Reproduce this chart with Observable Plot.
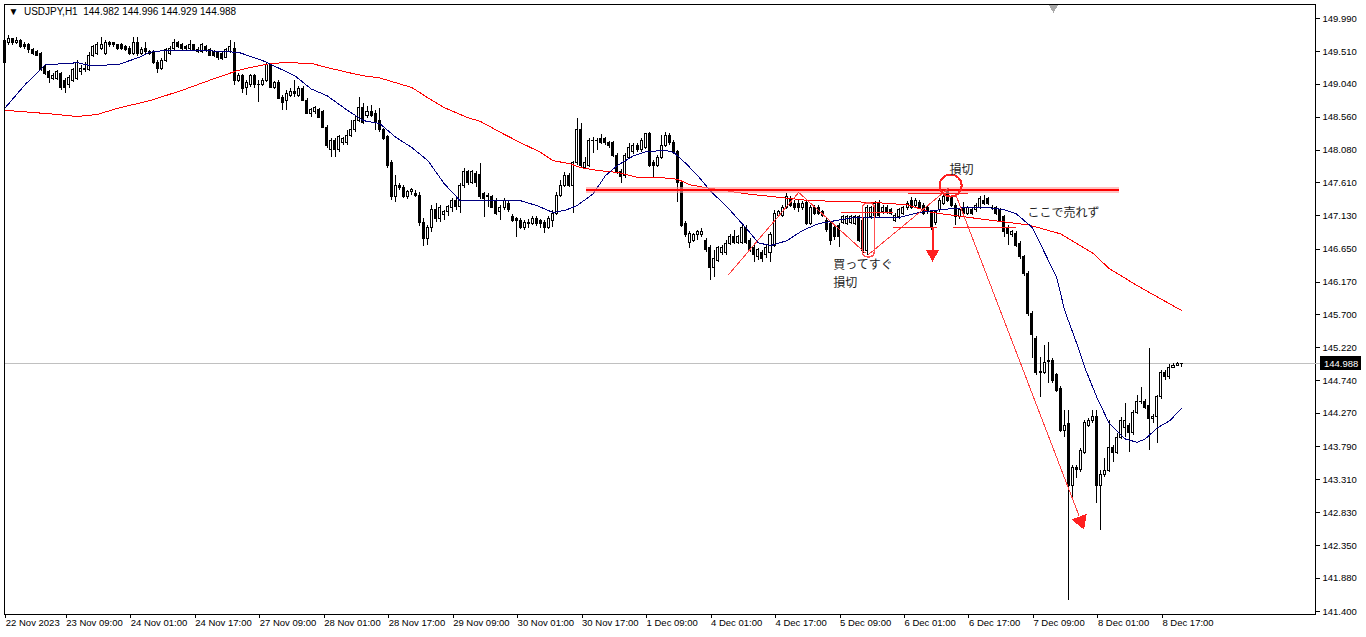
<!DOCTYPE html>
<html><head><meta charset="utf-8">
<script src="https://cdn.jsdelivr.net/npm/d3@7"></script>
<script src="https://cdn.jsdelivr.net/npm/@observablehq/plot@0.6"></script>
<style>
html,body{margin:0;padding:0;background:#fff;}
#chart{width:1366px;height:637px;overflow:hidden;}
</style></head><body><div id="chart"></div>
<script>
const symbolName = "USDJPY,H1";
const lastQuote = [144.982, 144.996, 144.929, 144.988];

const open = [
149.35,149.63,149.69,149.63,149.67,149.61,149.60,149.53,149.50,149.48,
149.29,149.21,149.12,149.12,149.19,149.09,149.02,149.09,149.12,149.21,
149.26,149.24,149.45,149.48,149.55,149.48,149.63,149.63,149.60,149.60,
149.57,149.55,149.48,149.64,149.48,149.55,149.50,149.50,149.35,149.26,
149.38,149.48,149.55,149.63,149.60,149.57,149.55,149.60,149.54,149.50,
149.57,149.53,149.50,149.50,149.48,149.42,149.50,149.55,149.09,149.15,
148.99,149.02,149.15,149.02,149.03,149.08,149.31,148.99,149.05,148.84,
148.80,148.87,148.92,148.87,148.97,148.80,148.61,148.63,148.66,148.63,
148.41,148.08,148.22,148.08,148.18,148.18,148.29,148.37,148.51,148.69,
148.58,148.63,148.61,148.51,148.37,148.27,147.89,147.40,147.57,147.54,
147.41,147.47,147.45,147.42,147.03,146.80,146.95,147.21,147.09,147.15,
147.18,147.24,147.34,147.26,147.56,147.76,147.61,147.74,147.73,147.45,
147.42,147.40,147.35,147.18,147.24,147.31,147.12,147.08,147.06,146.96,
147.03,147.02,147.09,147.05,147.03,146.96,147.06,147.16,147.42,147.57,
147.71,147.57,147.89,148.37,147.83,147.86,148.21,148.22,148.24,148.24,
148.18,148.18,148.00,147.77,147.71,147.97,148.05,148.15,148.08,148.12,
148.32,147.90,147.86,147.97,148.15,148.29,148.19,148.05,147.60,147.02,
146.74,146.77,146.85,146.85,146.77,146.67,146.37,146.48,146.59,146.59,
146.73,146.82,146.74,146.74,146.96,146.77,146.67,146.53,146.60,146.56,
146.60,146.70,147.13,147.13,147.25,147.38,147.31,147.31,147.24,147.32,
147.02,147.25,147.25,147.18,147.06,147.02,146.96,146.99,147.03,147.02,
147.03,147.02,147.11,147.06,146.62,147.11,147.13,147.32,147.18,147.25,
147.21,147.06,147.11,147.16,147.24,147.35,147.28,147.32,147.28,147.24,
147.18,147.03,147.21,147.31,147.47,147.40,147.28,147.11,147.25,147.16,
147.22,147.21,147.25,147.35,147.37,147.25,147.24,147.21,147.11,146.96,
146.85,146.87,146.73,146.53,146.29,145.71,145.35,144.86,144.86,145.02,
145.03,144.82,144.63,144.02,144.12,143.22,143.48,143.45,143.70,144.09,
144.16,144.22,143.22,143.37,143.44,143.77,143.70,143.92,144.06,144.09,
143.98,144.28,144.44,144.44,144.37,144.19,144.21,144.50,144.86,144.79,
144.93,144.95,144.982];

const high = [
149.74,149.74,149.70,149.71,149.69,149.64,149.63,149.55,149.53,149.50,
149.32,149.24,149.19,149.24,149.21,149.12,149.16,149.26,149.38,149.31,
149.35,149.50,149.60,149.64,149.71,149.67,149.66,149.64,149.61,149.63,
149.60,149.58,149.71,149.71,149.57,149.64,149.53,149.53,149.38,149.41,
149.55,149.58,149.69,149.66,149.63,149.60,149.67,149.61,149.57,149.63,
149.60,149.55,149.53,149.51,149.50,149.55,149.67,149.64,149.19,149.18,
149.09,149.18,149.18,149.09,149.12,149.34,149.34,149.08,149.09,148.87,
148.95,148.97,149.09,149.00,149.00,148.83,148.69,148.71,148.69,148.66,
148.44,148.25,148.25,148.29,148.27,148.37,148.51,148.58,148.84,148.76,
148.71,148.73,148.66,148.69,148.40,148.29,147.93,147.71,147.60,147.57,
147.50,147.53,147.50,147.47,147.09,146.99,147.28,147.31,147.28,147.21,
147.28,147.38,147.38,147.60,147.82,147.79,147.79,147.77,147.89,147.47,
147.45,147.42,147.38,147.28,147.38,147.34,147.15,147.11,147.09,147.06,
147.08,147.12,147.12,147.08,147.06,147.12,147.21,147.47,147.64,147.76,
147.74,147.92,148.54,148.47,147.97,148.25,148.27,148.25,148.31,148.27,
148.21,148.21,148.03,147.80,148.03,148.18,148.18,148.18,148.25,148.33,
148.34,147.93,148.00,148.29,148.34,148.32,148.22,148.08,147.63,147.05,
146.90,146.87,146.92,146.95,146.80,146.70,146.63,146.69,146.70,146.77,
146.86,146.92,146.85,146.99,146.99,146.80,146.70,146.66,146.63,146.70,
146.89,147.21,147.21,147.28,147.45,147.41,147.35,147.35,147.34,147.35,
147.28,147.28,147.28,147.21,147.09,147.05,146.99,147.02,147.13,147.13,
147.13,147.13,147.13,147.09,147.28,147.26,147.34,147.35,147.28,147.28,
147.24,147.16,147.24,147.26,147.34,147.40,147.38,147.35,147.31,147.26,
147.21,147.21,147.38,147.47,147.53,147.42,147.31,147.24,147.32,147.26,
147.25,147.31,147.41,147.42,147.40,147.28,147.26,147.24,147.13,146.99,
146.92,146.90,146.76,146.56,146.32,145.74,145.38,145.08,145.25,145.29,
145.06,144.85,144.66,144.31,144.31,143.51,143.51,143.76,144.16,144.19,
144.31,144.31,143.44,143.61,144.16,143.80,143.98,144.21,144.41,144.12,
144.31,144.53,144.64,144.47,145.21,144.25,144.53,144.89,144.89,144.98,
144.99,145.00,144.996];

const low = [
149.35,149.60,149.60,149.61,149.55,149.54,149.48,149.45,149.44,149.22,
149.16,149.05,149.09,149.09,148.95,148.90,148.97,149.06,149.09,149.16,
149.21,149.22,149.42,149.45,149.53,149.45,149.57,149.57,149.53,149.53,
149.51,149.45,149.45,149.44,149.45,149.47,149.45,149.32,149.19,149.24,
149.35,149.45,149.53,149.55,149.53,149.53,149.53,149.51,149.48,149.48,
149.50,149.44,149.42,149.38,149.38,149.41,149.48,149.02,149.06,148.90,
148.87,148.99,148.97,148.77,149.00,149.06,148.97,148.96,148.82,148.66,
148.66,148.84,148.84,148.84,148.79,148.60,148.55,148.60,148.54,148.40,
148.11,147.97,147.97,148.05,148.15,148.15,148.27,148.34,148.48,148.45,
148.54,148.55,148.37,148.34,148.22,147.82,147.35,147.32,147.50,147.38,
147.37,147.42,147.40,146.98,146.69,146.70,146.89,147.03,147.03,147.06,
147.12,147.18,147.21,147.16,147.53,147.57,147.58,147.54,147.37,147.11,
147.25,147.24,147.13,147.06,147.21,147.18,147.03,146.82,146.93,146.92,
146.95,146.99,146.98,146.95,146.87,146.93,146.96,147.13,147.40,147.54,
147.54,147.16,147.86,147.83,147.82,147.83,148.03,148.08,148.16,148.15,
148.11,147.97,147.73,147.60,147.67,147.96,148.02,148.05,148.05,148.09,
147.83,147.69,147.83,147.95,148.12,148.15,148.02,147.32,146.96,146.82,
146.66,146.74,146.77,146.82,146.60,146.19,146.24,146.45,146.56,146.56,
146.70,146.71,146.71,146.71,146.71,146.60,146.45,146.48,146.45,146.51,
146.45,146.67,147.11,147.11,147.22,147.25,147.21,147.18,147.21,146.99,
146.99,147.13,147.13,147.11,146.89,146.70,146.77,146.67,147.00,146.99,
147.00,146.99,146.74,146.59,146.56,147.08,147.11,147.11,147.15,147.15,
147.13,147.03,147.08,147.13,147.21,147.22,147.25,147.22,147.13,147.15,
146.92,146.99,147.18,147.28,147.32,147.25,146.99,147.08,147.13,147.13,
147.13,147.18,147.22,147.28,147.28,147.21,147.13,147.03,146.82,146.70,
146.82,146.67,146.50,146.25,145.67,145.06,144.82,144.50,144.83,144.70,
144.70,144.57,143.99,143.92,141.56,143.01,143.32,143.41,143.67,144.06,
144.13,142.96,142.57,143.34,143.41,143.56,143.67,143.89,143.92,143.70,
143.95,144.25,144.40,144.32,143.73,144.12,143.83,144.47,144.74,144.76,
144.92,144.95,144.929];

const close = [
149.67,149.69,149.63,149.67,149.57,149.57,149.53,149.48,149.45,149.24,
149.19,149.13,149.16,149.21,148.99,148.99,149.13,149.24,149.35,149.26,
149.24,149.45,149.57,149.60,149.60,149.63,149.60,149.60,149.55,149.55,
149.54,149.47,149.64,149.47,149.53,149.50,149.48,149.34,149.26,149.38,
149.53,149.55,149.64,149.57,149.55,149.55,149.60,149.53,149.50,149.60,
149.53,149.45,149.45,149.42,149.41,149.53,149.57,149.09,149.15,148.97,
149.05,149.15,149.02,149.03,149.09,149.31,148.99,149.05,148.83,148.76,
148.90,148.92,148.90,148.97,148.80,148.61,148.66,148.69,148.55,148.41,
148.15,148.22,148.08,148.27,148.24,148.29,148.37,148.51,148.69,148.48,
148.63,148.58,148.48,148.37,148.25,147.86,147.40,147.57,147.54,147.40,
147.47,147.50,147.42,147.03,146.80,146.95,147.21,147.09,147.25,147.18,
147.26,147.34,147.26,147.56,147.76,147.61,147.76,147.61,147.40,147.38,
147.40,147.25,147.16,147.25,147.35,147.21,147.06,147.05,146.96,147.03,
147.02,147.09,147.02,147.02,146.96,147.09,147.16,147.42,147.57,147.71,
147.57,147.89,148.37,147.86,147.89,148.22,148.22,148.21,148.19,148.18,
148.14,148.00,147.76,147.70,148.00,148.12,148.15,148.08,148.22,148.32,
147.86,147.86,147.97,148.15,148.29,148.18,148.05,147.60,146.99,146.85,
146.87,146.85,146.89,146.89,146.63,146.37,146.51,146.66,146.66,146.73,
146.82,146.74,146.82,146.96,146.74,146.63,146.56,146.63,146.51,146.67,
146.85,147.16,147.18,147.25,147.40,147.28,147.24,147.24,147.31,147.02,
147.25,147.16,147.16,147.13,146.92,146.77,146.82,146.82,147.11,147.11,
147.11,147.11,146.77,146.62,147.25,147.24,147.31,147.13,147.25,147.18,
147.16,147.13,147.21,147.24,147.31,147.25,147.35,147.25,147.16,147.18,
146.96,147.18,147.35,147.40,147.35,147.28,147.11,147.21,147.16,147.24,
147.16,147.28,147.38,147.31,147.31,147.24,147.16,147.06,146.89,146.87,
146.89,146.70,146.53,146.29,145.71,145.40,144.86,144.87,145.00,145.03,
144.74,144.60,144.02,144.09,143.22,143.48,143.45,143.72,144.13,144.16,
144.22,143.22,143.37,143.44,143.77,143.70,143.92,144.16,144.16,143.98,
144.28,144.43,144.43,144.35,144.19,144.22,144.50,144.86,144.79,144.93,
144.95,144.98,144.988];

// moving averages (bar index, value)
const blueIdx = [0,5,10,16,18,21,28,33,36,40,48,58,64,72,76,80,85,89,93,97,101,105,109,113,121,128,132,136,139,142,146,149,152,156,159,164,166,169,172,175,180,184,187,190,194,198,202,206,211,217,222,227,232,238,244,248,251,255,258,261,263,266,268,271,274,278,281,283,286,289,292];
const blueVal = [148.69,149.03,149.32,149.34,149.35,149.31,149.32,149.42,149.50,149.53,149.53,149.50,149.38,149.16,148.97,148.87,148.66,148.51,148.47,148.27,148.12,147.93,147.60,147.35,147.35,147.35,147.28,147.18,147.21,147.28,147.45,147.71,147.86,148.00,148.06,148.08,148.05,147.89,147.71,147.50,147.21,146.95,146.74,146.70,146.77,146.92,147.02,147.06,147.11,147.11,147.11,147.18,147.22,147.25,147.25,147.22,147.16,146.96,146.60,146.24,145.76,145.28,144.93,144.50,144.13,143.90,143.85,143.90,144.06,144.16,144.34];
const redIdx = [0,11,18,23,28,36,44,52,58,61,66,70,76,80,85,89,93,97,101,105,109,115,118,123,128,133,136,140,143,147,152,157,162,167,170,175,184,192,200,209,217,224,230,239,247,254,262,270,274,281,292];
const redVal = [148.66,148.61,148.57,148.60,148.69,148.80,148.95,149.12,149.24,149.28,149.34,149.35,149.34,149.28,149.21,149.16,149.13,149.06,148.99,148.84,148.70,148.55,148.50,148.34,148.19,148.05,147.93,147.89,147.83,147.79,147.76,147.69,147.69,147.66,147.58,147.53,147.45,147.40,147.35,147.34,147.32,147.29,147.18,147.11,147.05,147.00,146.87,146.59,146.37,146.12,145.76];

const yTicks = [149.990,149.510,149.040,148.560,148.080,147.610,147.130,146.650,146.170,145.700,145.220,144.740,144.270,143.790,143.310,142.830,142.350,141.880,141.400];
const xTickIdx = [0,15,31,47,63,79,95,111,127,143,159,175,191,207,223,239,255,271,287];
const xTickLabels = ["22 Nov 2023","23 Nov 09:00","24 Nov 01:00","24 Nov 17:00","27 Nov 09:00","28 Nov 01:00","28 Nov 17:00","29 Nov 09:00","30 Nov 01:00","30 Nov 17:00","1 Dec 09:00","4 Dec 01:00","4 Dec 17:00","5 Dec 09:00","6 Dec 01:00","6 Dec 17:00","7 Dec 09:00","8 Dec 01:00","8 Dec 17:00"];

// hand-drawn annotations, in (bar index, price)
const stopLevel = {i1: 144.3, i2: 276.4, p: 147.50};
const trendLines = [[179.6,146.28,197.0,147.47],[197.0,147.47,213.6,146.59],[214.3,146.57,234.2,147.53]];
const rangeLines = [[207.4,220.5,147.18],[224.2,239.1,147.45],[220.5,231.4,146.96],[235.4,250.8,146.96]];
const stopBox = {i1: 212.9, i2: 215.9, p1: 146.53, p2: 147.31};
const stopCircle = {i: 234.7, p: 147.57};
const downArrow = {i: 230.2, p1: 146.96, p2: 146.64, head: 146.58};
const dropArrow = {i1: 235.9, p1: 147.45, i2: 266.6, p2: 142.78, hi: 267.0, hp: 142.71};
const notesMiddle = [{i: 237.4, p: 147.80, t: "損切"}];
const notesStart = [
  {i: 253.8, p: 147.165, t: "ここで売れず"},
  {i: 205.6, p: 146.42, t: "買ってすぐ"},
  {i: 205.6, p: 146.15, t: "損切"}
];
const shiftMarker = {i: 260.2, p: 150.16};
const priceTag = {i1: 326.6, i2: 336.6, gapFrom: 325.2};

const candles = open.map((o, i) => ({
  i, open: o, close: close[i],
  high: Math.max(high[i], o, close[i]),
  low: Math.min(low[i], o, close[i])
}));
const bull = candles.filter(d => d.close >= d.open);
const bear = candles.filter(d => d.close < d.open);
const blueMA = blueIdx.map((i, k) => ({i, v: blueVal[k]}));
const redMA = redIdx.map((i, k) => ({i, v: redVal[k]}));

const W = 1366, H = 637, mL = 4, mR = 51, mT = 4, mB = 23;
const barPx = 4.03, firstBarPx = 4.3;       // horizontal bar spacing
const pxPerYen = 69.03, refTick = 149.990, refPx = 18; // vertical scale
const xDomain = [(mL - firstBarPx) / barPx, (W - mR - firstBarPx) / barPx];
const yDomain = [refTick - (H - mB - refPx) / pxPerYen, refTick + (refPx - mT) / pxPerYen];
const tagHalf = 6.8 / pxPerYen;

const font = "Tahoma, 'Liberation Sans', Arial, sans-serif";
const jp = "'Noto Sans CJK JP', sans-serif";
const last = lastQuote[3];

const chart = Plot.plot({
  width: W, height: H,
  marginLeft: mL, marginRight: mR, marginTop: mT, marginBottom: mB,
  x: {domain: xDomain},
  y: {domain: yDomain},
  style: {background: "#fff", fontFamily: font, fontSize: "9.5px", color: "#000", shapeRendering: "crispEdges"},
  marks: [
    Plot.ruleY([last], {stroke: "#c0c0c0"}),
    Plot.ruleX(candles, {x: "i", y1: "low", y2: "high", stroke: "#000"}),
    Plot.rect(bull, {x1: d => d.i - 0.25, x2: d => d.i + 0.25, y1: "open", y2: "close", fill: "#fff", stroke: "#000"}),
    Plot.rect(bear, {x1: d => d.i - 0.25, x2: d => d.i + 0.25, y1: "open", y2: "close", fill: "#000", stroke: "#000"}),
    Plot.line(redMA, {x: "i", y: "v", stroke: "#ff0000", strokeWidth: 1}),
    Plot.line(blueMA, {x: "i", y: "v", stroke: "#000080", strokeWidth: 1}),
    // annotations
    Plot.link([stopLevel], {x1: "i1", x2: "i2", y1: "p", y2: "p", stroke: "#ff9a9a", strokeWidth: 6, strokeOpacity: 0.6}),
    Plot.link([stopLevel], {x1: "i1", x2: "i2", y1: "p", y2: "p", stroke: "#ff0000", strokeWidth: 2}),
    Plot.link(trendLines, {x1: d => d[0], y1: d => d[1], x2: d => d[2], y2: d => d[3], stroke: "#ff4040", strokeWidth: 1}),
    Plot.link(rangeLines, {x1: d => d[0], x2: d => d[1], y1: d => d[2], y2: d => d[2], stroke: "#ff2020", strokeWidth: 1}),
    Plot.rect([stopBox], {x1: "i1", x2: "i2", y1: "p1", y2: "p2", fill: "none", stroke: "#ff5050", strokeWidth: 1.5, rx: 5, style: "shape-rendering:auto"}),
    Plot.dot([stopCircle], {x: "i", y: "p", r: 11, stroke: "#ff2020", strokeWidth: 2, fill: "none", style: "shape-rendering:auto"}),
    Plot.link([downArrow], {x1: "i", x2: "i", y1: "p1", y2: "p2", stroke: "#ff2020", strokeWidth: 2}),
    Plot.dot([downArrow], {x: "i", y: "head", symbol: "triangle", r: 5, rotate: 180, fill: "#ff2020", stroke: "none", style: "shape-rendering:auto"}),
    Plot.link([dropArrow], {x1: "i1", y1: "p1", x2: "i2", y2: "p2", stroke: "#ff4040", strokeWidth: 1, style: "shape-rendering:auto"}),
    Plot.dot([dropArrow], {x: "hi", y: "hp", symbol: "triangle", r: 6, rotate: 159, fill: "#ff2020", stroke: "none", style: "shape-rendering:auto"}),
    Plot.text(notesMiddle, {x: "i", y: "p", text: "t", textAnchor: "middle", fontFamily: jp, fontSize: 12, fill: "#222", style: "shape-rendering:auto"}),
    Plot.text(notesStart, {x: "i", y: "p", text: "t", textAnchor: "start", fontFamily: jp, fontSize: 12, fill: "#222", style: "shape-rendering:auto"}),
    // header and chart chrome
    Plot.text([`\u25BC  ${symbolName}  ${lastQuote.map(v => v.toFixed(3)).join(" ")}`], {frameAnchor: "top-left", dx: 4, dy: 3, lineAnchor: "top", textAnchor: "start", fontFamily: "'Liberation Sans', Arial, sans-serif", fontSize: 10, fill: "#000"}),
    Plot.dot([shiftMarker], {x: "i", y: "p", symbol: "triangle", r: 4, rotate: 180, fill: "#a8a8a8", stroke: "none", style: "shape-rendering:auto"}),
    Plot.frame({stroke: "#000"}),
    Plot.axisY({anchor: "right", ticks: yTicks, tickFormat: d => d.toFixed(3), tickSize: 4, tickPadding: 3, label: null, fontSize: 9.5}),
    Plot.axisX({anchor: "bottom", ticks: xTickIdx, tickFormat: d => xTickLabels[xTickIdx.indexOf(d)], tickSize: 4, tickPadding: 1, textAnchor: "start", dx: 1, label: null, fontSize: 9.5}),
    // current price tag
    Plot.link([priceTag], {x1: "gapFrom", x2: "i1", y1: () => last, y2: () => last, stroke: "#c0c0c0"}),
    Plot.rect([priceTag], {x1: "i1", x2: "i2", y1: () => last - tagHalf, y2: () => last + tagHalf, fill: "#000"}),
    Plot.text([priceTag], {x: d => (d.i1 + d.i2) / 2, y: () => last, text: () => last.toFixed(3), fill: "#fff", fontSize: 9.5, textAnchor: "middle", style: "shape-rendering:auto"})
  ]
});
document.getElementById("chart").appendChild(chart);
</script></body></html>
